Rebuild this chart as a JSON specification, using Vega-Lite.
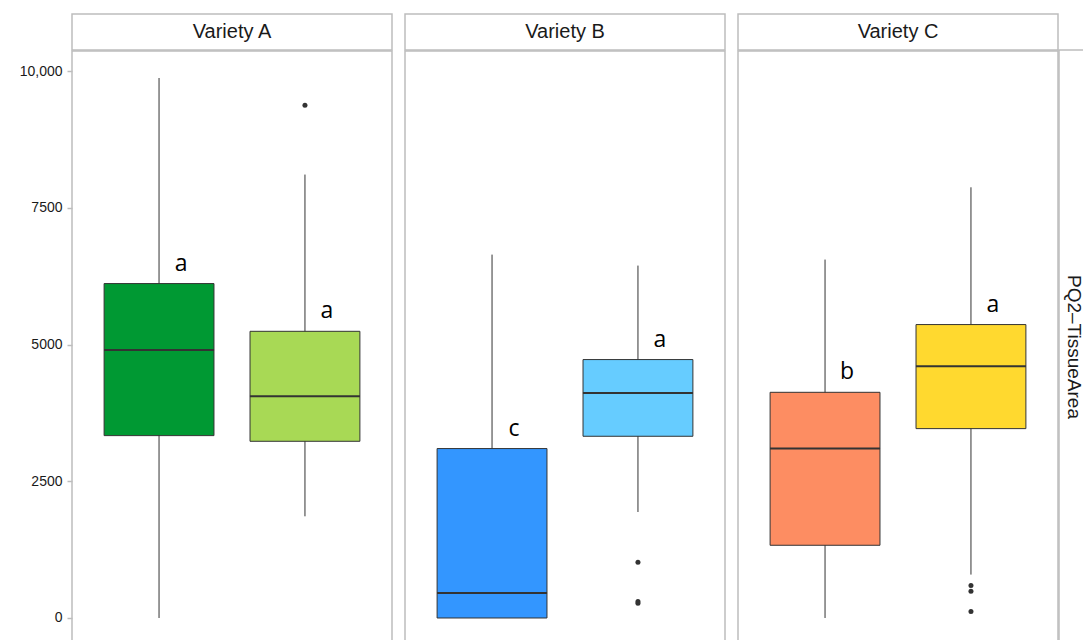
{
  "$schema": "https://vega.github.io/schema/vega-lite/v6.json",
  "background": "white",
  "padding": {"left": 18, "top": 13, "right": 0, "bottom": 0},
  "datasets": {
    "panels": [
      {"variety": "Variety A"},
      {"variety": "Variety B"},
      {"variety": "Variety C"}
    ],
    "measure": [
      {"measure": "PQ2–TissueArea"}
    ],
    "boxes": [
      {"variety": "Variety A", "group": "1", "box": "A1", "lower": 0, "q1": 3336, "median": 4902, "q3": 6117, "upper": 9877, "letter": "a"},
      {"variety": "Variety A", "group": "2", "box": "A2", "lower": 1860, "q1": 3232, "median": 4055, "q3": 5244, "upper": 8111, "letter": "a"},
      {"variety": "Variety B", "group": "1", "box": "B1", "lower": 0, "q1": 0, "median": 457, "q3": 3099, "upper": 6647, "letter": "c"},
      {"variety": "Variety B", "group": "2", "box": "B2", "lower": 1939, "q1": 3324, "median": 4116, "q3": 4727, "upper": 6446, "letter": "a"},
      {"variety": "Variety C", "group": "1", "box": "C1", "lower": 0, "q1": 1330, "median": 3099, "q3": 4128, "upper": 6556, "letter": "b"},
      {"variety": "Variety C", "group": "2", "box": "C2", "lower": 794, "q1": 3464, "median": 4604, "q3": 5367, "upper": 7878, "letter": "a"}
    ],
    "outliers": [
      {"variety": "Variety A", "group": "2", "value": 9378},
      {"variety": "Variety B", "group": "2", "value": 1019},
      {"variety": "Variety B", "group": "2", "value": 300},
      {"variety": "Variety B", "group": "2", "value": 268},
      {"variety": "Variety C", "group": "2", "value": 593},
      {"variety": "Variety C", "group": "2", "value": 488},
      {"variety": "Variety C", "group": "2", "value": 117}
    ]
  },
  "hconcat": [
    {
      "hconcat": [
        {
          "vconcat": [
            {
              "width": 320, "height": 36,
              "data": {"name": "panels"},
              "transform": [{"filter": "datum.variety === 'Variety A'"}],
              "mark": {"type": "text", "fontSize": 20, "color": "#1a1a1a"},
              "encoding": {
                "x": {"field": "variety", "type": "nominal", "axis": null},
                "y": {"field": "variety", "type": "nominal", "axis": null},
                "text": {"field": "variety"}
              }
            },
            {
              "width": 320, "height": 594,
              "layer": [
                {
                  "data": {"name": "boxes"},
                  "transform": [{"filter": "datum.variety === 'Variety A'"}],
                  "mark": {"type": "rule", "color": "#333333", "strokeWidth": 1},
                  "encoding": {
                    "x": {"field": "group", "type": "nominal", "scale": {"type": "band", "domain": ["1", "2"], "paddingInner": 0.247, "paddingOuter": 0.22}, "axis": null},
                    "y": {"field": "lower", "type": "quantitative", "scale": {"domain": [-494, 10371], "nice": false, "zero": false},
                      "axis": {"title": null, "values": [0, 2500, 5000, 7500, 10000], "labelExpr": "datum.value >= 10000 ? format(datum.value, ',') : format(datum.value, 'd')", "grid": false, "domain": false, "ticks": true, "tickSize": 5, "tickColor": "#bdbdbd", "tickWidth": 1.5, "labelFontSize": 14, "labelColor": "#1a1a1a", "labelPadding": 5}},
                    "y2": {"field": "upper"}
                  }
                },
                {
                  "data": {"name": "boxes"},
                  "transform": [{"filter": "datum.variety === 'Variety A'"}],
                  "mark": {"type": "bar", "stroke": "#333333", "strokeWidth": 1},
                  "encoding": {
                    "x": {"field": "group", "type": "nominal", "axis": null},
                    "y": {"field": "q1", "type": "quantitative",
                      "axis": {"title": null, "values": [0, 2500, 5000, 7500, 10000], "labelExpr": "datum.value >= 10000 ? format(datum.value, ',') : format(datum.value, 'd')", "grid": false, "domain": false, "ticks": true, "tickSize": 5, "tickColor": "#bdbdbd", "tickWidth": 1.5, "labelFontSize": 14, "labelColor": "#1a1a1a", "labelPadding": 5}},
                    "y2": {"field": "q3"},
                    "color": {"field": "box", "type": "nominal", "legend": null,
                      "scale": {"domain": ["A1", "A2", "B1", "B2", "C1", "C2"], "range": ["#009933", "#a8d955", "#3396ff", "#66ccff", "#fd8d62", "#ffd92f"]}}
                  }
                },
                {
                  "data": {"name": "boxes"},
                  "transform": [{"filter": "datum.variety === 'Variety A'"}],
                  "mark": {"type": "tick", "color": "#333333", "size": 110, "thickness": 2, "opacity": 1},
                  "encoding": {
                    "x": {"field": "group", "type": "nominal", "axis": null},
                    "y": {"field": "median", "type": "quantitative",
                      "axis": {"title": null, "values": [0, 2500, 5000, 7500, 10000], "labelExpr": "datum.value >= 10000 ? format(datum.value, ',') : format(datum.value, 'd')", "grid": false, "domain": false, "ticks": true, "tickSize": 5, "tickColor": "#bdbdbd", "tickWidth": 1.5, "labelFontSize": 14, "labelColor": "#1a1a1a", "labelPadding": 5}}
                  }
                },
                {
                  "data": {"name": "outliers"},
                  "transform": [{"filter": "datum.variety === 'Variety A'"}],
                  "mark": {"type": "point", "filled": true, "color": "#333333", "size": 25, "opacity": 1},
                  "encoding": {
                    "x": {"field": "group", "type": "nominal", "axis": null},
                    "y": {"field": "value", "type": "quantitative",
                      "axis": {"title": null, "values": [0, 2500, 5000, 7500, 10000], "labelExpr": "datum.value >= 10000 ? format(datum.value, ',') : format(datum.value, 'd')", "grid": false, "domain": false, "ticks": true, "tickSize": 5, "tickColor": "#bdbdbd", "tickWidth": 1.5, "labelFontSize": 14, "labelColor": "#1a1a1a", "labelPadding": 5}}
                  }
                },
                {
                  "data": {"name": "boxes"},
                  "transform": [{"filter": "datum.variety === 'Variety A'"}],
                  "mark": {"type": "text", "font": "Open Sans", "fontSize": 23, "color": "#000000", "dx": 22, "dy": -13, "baseline": "alphabetic"},
                  "encoding": {
                    "x": {"field": "group", "type": "nominal", "axis": null},
                    "y": {"field": "q3", "type": "quantitative",
                      "axis": {"title": null, "values": [0, 2500, 5000, 7500, 10000], "labelExpr": "datum.value >= 10000 ? format(datum.value, ',') : format(datum.value, 'd')", "grid": false, "domain": false, "ticks": true, "tickSize": 5, "tickColor": "#bdbdbd", "tickWidth": 1.5, "labelFontSize": 14, "labelColor": "#1a1a1a", "labelPadding": 5}},
                    "text": {"field": "letter"}
                  }
                }
              ]
            }
          ],
          "spacing": -2.5
        },
        {
          "vconcat": [
            {
              "width": 320, "height": 36,
              "data": {"name": "panels"},
              "transform": [{"filter": "datum.variety === 'Variety B'"}],
              "mark": {"type": "text", "fontSize": 20, "color": "#1a1a1a"},
              "encoding": {
                "x": {"field": "variety", "type": "nominal", "axis": null},
                "y": {"field": "variety", "type": "nominal", "axis": null},
                "text": {"field": "variety"}
              }
            },
            {
              "width": 320, "height": 594,
              "layer": [
                {
                  "data": {"name": "boxes"},
                  "transform": [{"filter": "datum.variety === 'Variety B'"}],
                  "mark": {"type": "rule", "color": "#333333", "strokeWidth": 1},
                  "encoding": {
                    "x": {"field": "group", "type": "nominal", "scale": {"type": "band", "domain": ["1", "2"], "paddingInner": 0.247, "paddingOuter": 0.22}, "axis": null},
                    "y": {"field": "lower", "type": "quantitative", "scale": {"domain": [-494, 10371], "nice": false, "zero": false}, "axis": null},
                    "y2": {"field": "upper"}
                  }
                },
                {
                  "data": {"name": "boxes"},
                  "transform": [{"filter": "datum.variety === 'Variety B'"}],
                  "mark": {"type": "bar", "stroke": "#333333", "strokeWidth": 1},
                  "encoding": {
                    "x": {"field": "group", "type": "nominal", "axis": null},
                    "y": {"field": "q1", "type": "quantitative", "axis": null},
                    "y2": {"field": "q3"},
                    "color": {"field": "box", "type": "nominal", "legend": null,
                      "scale": {"domain": ["A1", "A2", "B1", "B2", "C1", "C2"], "range": ["#009933", "#a8d955", "#3396ff", "#66ccff", "#fd8d62", "#ffd92f"]}}
                  }
                },
                {
                  "data": {"name": "boxes"},
                  "transform": [{"filter": "datum.variety === 'Variety B'"}],
                  "mark": {"type": "tick", "color": "#333333", "size": 110, "thickness": 2, "opacity": 1},
                  "encoding": {
                    "x": {"field": "group", "type": "nominal", "axis": null},
                    "y": {"field": "median", "type": "quantitative", "axis": null}
                  }
                },
                {
                  "data": {"name": "outliers"},
                  "transform": [{"filter": "datum.variety === 'Variety B'"}],
                  "mark": {"type": "point", "filled": true, "color": "#333333", "size": 25, "opacity": 1},
                  "encoding": {
                    "x": {"field": "group", "type": "nominal", "axis": null},
                    "y": {"field": "value", "type": "quantitative", "axis": null}
                  }
                },
                {
                  "data": {"name": "boxes"},
                  "transform": [{"filter": "datum.variety === 'Variety B'"}],
                  "mark": {"type": "text", "font": "Open Sans", "fontSize": 23, "color": "#000000", "dx": 22, "dy": -13, "baseline": "alphabetic"},
                  "encoding": {
                    "x": {"field": "group", "type": "nominal", "axis": null},
                    "y": {"field": "q3", "type": "quantitative", "axis": null},
                    "text": {"field": "letter"}
                  }
                }
              ]
            }
          ],
          "spacing": -2.5
        },
        {
          "vconcat": [
            {
              "width": 320, "height": 36,
              "data": {"name": "panels"},
              "transform": [{"filter": "datum.variety === 'Variety C'"}],
              "mark": {"type": "text", "fontSize": 20, "color": "#1a1a1a"},
              "encoding": {
                "x": {"field": "variety", "type": "nominal", "axis": null},
                "y": {"field": "variety", "type": "nominal", "axis": null},
                "text": {"field": "variety"}
              }
            },
            {
              "width": 320, "height": 594,
              "layer": [
                {
                  "data": {"name": "boxes"},
                  "transform": [{"filter": "datum.variety === 'Variety C'"}],
                  "mark": {"type": "rule", "color": "#333333", "strokeWidth": 1},
                  "encoding": {
                    "x": {"field": "group", "type": "nominal", "scale": {"type": "band", "domain": ["1", "2"], "paddingInner": 0.247, "paddingOuter": 0.22}, "axis": null},
                    "y": {"field": "lower", "type": "quantitative", "scale": {"domain": [-494, 10371], "nice": false, "zero": false}, "axis": null},
                    "y2": {"field": "upper"}
                  }
                },
                {
                  "data": {"name": "boxes"},
                  "transform": [{"filter": "datum.variety === 'Variety C'"}],
                  "mark": {"type": "bar", "stroke": "#333333", "strokeWidth": 1},
                  "encoding": {
                    "x": {"field": "group", "type": "nominal", "axis": null},
                    "y": {"field": "q1", "type": "quantitative", "axis": null},
                    "y2": {"field": "q3"},
                    "color": {"field": "box", "type": "nominal", "legend": null,
                      "scale": {"domain": ["A1", "A2", "B1", "B2", "C1", "C2"], "range": ["#009933", "#a8d955", "#3396ff", "#66ccff", "#fd8d62", "#ffd92f"]}}
                  }
                },
                {
                  "data": {"name": "boxes"},
                  "transform": [{"filter": "datum.variety === 'Variety C'"}],
                  "mark": {"type": "tick", "color": "#333333", "size": 110, "thickness": 2, "opacity": 1},
                  "encoding": {
                    "x": {"field": "group", "type": "nominal", "axis": null},
                    "y": {"field": "median", "type": "quantitative", "axis": null}
                  }
                },
                {
                  "data": {"name": "outliers"},
                  "transform": [{"filter": "datum.variety === 'Variety C'"}],
                  "mark": {"type": "point", "filled": true, "color": "#333333", "size": 25, "opacity": 1},
                  "encoding": {
                    "x": {"field": "group", "type": "nominal", "axis": null},
                    "y": {"field": "value", "type": "quantitative", "axis": null}
                  }
                },
                {
                  "data": {"name": "boxes"},
                  "transform": [{"filter": "datum.variety === 'Variety C'"}],
                  "mark": {"type": "text", "font": "Open Sans", "fontSize": 23, "color": "#000000", "dx": 22, "dy": -13, "baseline": "alphabetic"},
                  "encoding": {
                    "x": {"field": "group", "type": "nominal", "axis": null},
                    "y": {"field": "q3", "type": "quantitative", "axis": null},
                    "text": {"field": "letter"}
                  }
                }
              ]
            }
          ],
          "spacing": -2.5
        }
      ],
      "spacing": 11
    },
    {
      "vconcat": [
        {
          "width": 30, "height": 36,
          "data": {"values": []},
          "mark": "point",
          "view": {"stroke": null}
        },
        {
          "width": 30, "height": 594,
          "data": {"name": "measure"},
          "mark": {"type": "text", "fontSize": 19, "angle": 90, "color": "#1a1a1a"},
          "encoding": {
            "x": {"field": "measure", "type": "nominal", "axis": null},
            "y": {"field": "measure", "type": "nominal", "axis": null},
            "text": {"field": "measure"}
          }
        }
      ],
      "spacing": -2.5
    }
  ],
  "spacing": -2,
  "config": {
    "font": "Liberation Sans",
    "view": {"stroke": "#bdbdbd", "strokeWidth": 1.5}
  }
}
